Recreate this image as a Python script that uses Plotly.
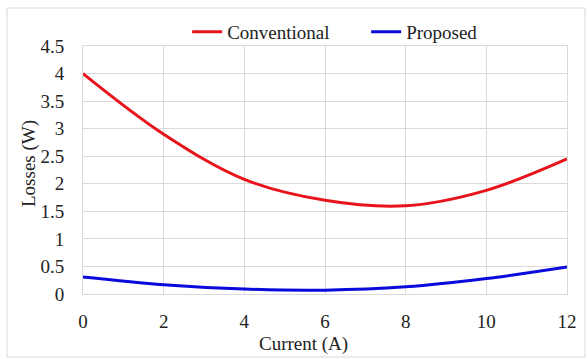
import plotly.graph_objects as go

current = [0, 2, 4, 6, 8, 10, 12]
conventional = [4.0, 2.9, 2.08, 1.7, 1.6, 1.88, 2.45]
proposed = [0.31, 0.17, 0.09, 0.07, 0.13, 0.28, 0.49]

font = "Liberation Serif, Times New Roman, serif"

fig = go.Figure()
fig.add_trace(go.Scatter(x=current, y=conventional, mode="lines", name="Conventional",
                         line=dict(color="#e8141b", width=3, shape="spline", smoothing=1.0)))
fig.add_trace(go.Scatter(x=current, y=proposed, mode="lines", name="Proposed",
                         line=dict(color="#0a0adc", width=3, shape="spline", smoothing=1.0)))

W_PLOT = 484.0
H_PLOT = 248.0

fig.update_layout(
    width=587, height=359,
    margin=dict(l=83, r=20, t=46, b=65, autoexpand=False),
    paper_bgcolor="white", plot_bgcolor="white",
    font=dict(family=font, size=19, color="#222222"),
    showlegend=True,
    legend=dict(orientation="h", x=0.585, xanchor="center",
                y=(294 - 32) / H_PLOT, yanchor="middle",
                font=dict(size=19, family=font), itemwidth=30, tracegroupgap=0,
                entrywidth=134, bgcolor="rgba(0,0,0,0)"),
    xaxis=dict(range=[0, 12], dtick=2, showgrid=True, gridcolor="#d9d9d9",
               zeroline=False, showline=True, linecolor="#d9d9d9", mirror=True,
               ticks="", ticklabelstandoff=10, automargin=False),
    yaxis=dict(range=[0, 4.5], dtick=0.5, showgrid=True, gridcolor="#d9d9d9",
               zeroline=False, showline=True, linecolor="#d9d9d9", mirror=True,
               ticks="", ticklabelstandoff=14, automargin=False),
    annotations=[
        dict(text="Current (A)", xref="paper", yref="paper",
             x=(303 - 83) / W_PLOT, y=-(344 - 294) / H_PLOT,
             xanchor="center", yanchor="middle", showarrow=False,
             font=dict(size=19, family=font, color="#222222")),
        dict(text="Losses (W)", xref="paper", yref="paper", textangle=-90,
             x=(29 - 83) / W_PLOT, y=(294 - 164) / H_PLOT,
             xanchor="center", yanchor="middle", showarrow=False,
             font=dict(size=19, family=font, color="#222222")),
    ],
    shapes=[dict(type="rect", xref="paper", yref="paper",
                 x0=-76 / W_PLOT, x1=1 + 18 / W_PLOT, y0=-63 / H_PLOT, y1=1 + 38 / H_PLOT,
                 line=dict(color="#d9d9d9", width=1))],
)

fig.write_html("out.html", config={"displayModeBar": False})

with open("out.html", "r", encoding="utf-8") as f:
    html = f.read()
html = html.replace("<head>", "<head><style>html,body{margin:0;padding:0;overflow:hidden;}</style>", 1)
with open("out.html", "w", encoding="utf-8") as f:
    f.write(html)
